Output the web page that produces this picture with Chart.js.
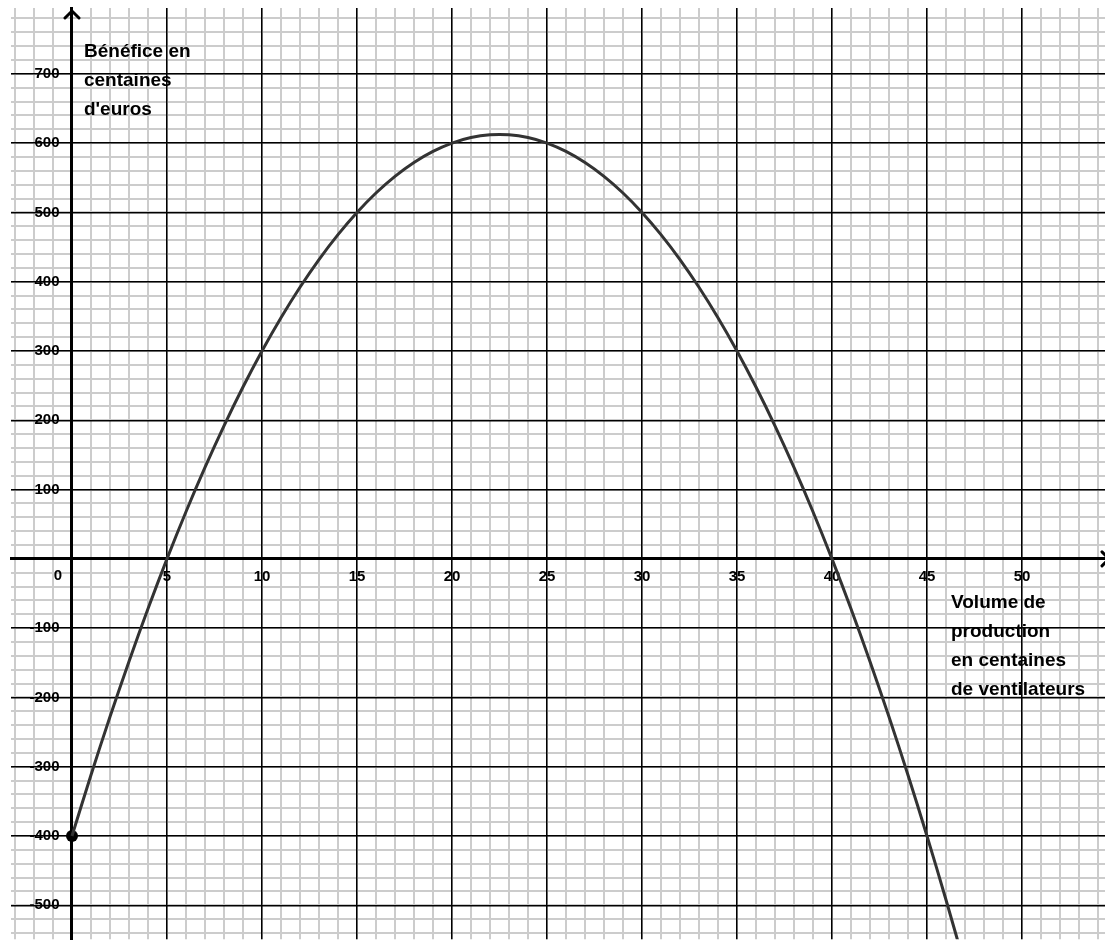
<!DOCTYPE html>
<html>
<head>
<meta charset="utf-8">
<script src="https://cdn.jsdelivr.net/npm/chart.js@4.4.0/dist/chart.umd.min.js"></script>
<style>
html, body { margin: 0; padding: 0; background: #fff; }
#wrap { width: 1105px; height: 940px; }
</style>
</head>
<body>
<div id="wrap"><canvas id="profitChart" width="1105" height="940"></canvas></div>
<script>
// Volume de production (centaines de ventilateurs), one reading per unit
var volumes = [0, 1, 2, 3, 4, 5, 6, 7, 8, 9, 10, 11, 12, 13, 14, 15, 16, 17, 18, 19, 20, 21, 22, 23,
    24, 25, 26, 27, 28, 29, 30, 31, 32, 33, 34, 35, 36, 37, 38, 39, 40, 41, 42, 43, 44, 45, 46, 47];
// Bénéfice (centaines d'euros)
var profits = [-400, -312, -228, -148, -72, 0, 68, 132, 192, 248, 300, 348, 392, 432, 468, 500, 528, 552, 572, 588, 600, 608, 612, 612,
    608, 600, 588, 572, 552, 528, 500, 468, 432, 392, 348, 300, 248, 192, 132, 68, 0, -72, -148, -228, -312, -400, -492, -588];
var startPoint = [{x: 0, y: -400}];

var xTickValues = [5, 10, 15, 20, 25, 30, 35, 40, 45, 50];
var yTickValues = [-500, -400, -300, -200, -100, 100, 200, 300, 400, 500, 600, 700];
var originLabel = '0';
var yTitleLines = ['Bénéfice en', 'centaines', "d'euros"];
var xTitleLines = ['Volume de', 'production', 'en centaines', 'de ventilateurs'];

var X_MIN = -3.21, X_MAX = 54.37;
var Y_MIN = -549, Y_MAX = 795;
var FONT = '"Liberation Sans", Arial, sans-serif';

// titles, origin label and axis arrows
var decorations = {
    id: 'decorations',
    afterDraw: function (chart) {
        var ctx = chart.ctx;
        var xs = chart.scales.x, ys = chart.scales.y;
        var ox = xs.getPixelForValue(0), oy = ys.getPixelForValue(0);
        ctx.save();
        ctx.fillStyle = '#000';
        ctx.font = 'bold 15px ' + FONT;
        ctx.textAlign = 'right';
        ctx.textBaseline = 'middle';
        ctx.fillText(originLabel, ox - 10, oy + 17);

        ctx.font = 'bold 19px ' + FONT;
        ctx.textAlign = 'left';
        ctx.textBaseline = 'alphabetic';
        yTitleLines.forEach(function (t, i) { ctx.fillText(t, ox + 12, 57 + i * 29); });
        xTitleLines.forEach(function (t, i) { ctx.fillText(t, 951, oy + 49 + i * 29); });

        ctx.strokeStyle = '#000';
        ctx.lineWidth = 3;
        ctx.lineCap = 'round';
        ctx.beginPath();
        ctx.moveTo(ox - 7, 18); ctx.lineTo(ox, 11); ctx.lineTo(ox + 7, 18);
        ctx.moveTo(1102, oy - 7); ctx.lineTo(1109, oy); ctx.lineTo(1102, oy + 7);
        ctx.stroke();
        ctx.restore();
    }
};

var ctx = document.getElementById('profitChart').getContext('2d');
var profitChart = new Chart(ctx, {
    type: 'line',
    data: {
        datasets: [{
            label: 'Bénéfice',
            data: volumes.map(function (v, i) { return {x: v, y: profits[i]}; }),
            borderColor: '#333333',
            borderWidth: 3,
            pointRadius: 0,
            tension: 0.4,
            fill: false
        }, {
            type: 'scatter',
            label: 'Départ',
            data: startPoint,
            pointRadius: 6,
            pointHoverRadius: 6,
            backgroundColor: '#000',
            borderWidth: 0
        }]
    },
    options: {
        responsive: false,
        animation: false,
        layout: { autoPadding: false, padding: { left: 11, top: 8, right: 0, bottom: 0 } },
        plugins: { legend: { display: false }, tooltip: { enabled: false } },
        scales: {
            xMinor: {
                type: 'linear', axis: 'x', position: { y: 0 },
                min: X_MIN, max: X_MAX,
                ticks: { display: false, stepSize: 1, includeBounds: false, autoSkip: false },
                grid: { color: '#cccccc', lineWidth: 2, drawTicks: false, z: -2 },
                border: { display: false }
            },
            yMinor: {
                type: 'linear', axis: 'y', position: { x: 0 },
                min: Y_MIN, max: Y_MAX,
                ticks: { display: false, stepSize: 20, includeBounds: false, autoSkip: false },
                grid: { color: '#cccccc', lineWidth: 2, drawTicks: false, z: -2 },
                border: { display: false }
            },
            x: {
                type: 'linear', position: { y: 0 },
                min: X_MIN, max: X_MAX,
                ticks: {
                    stepSize: 5, includeBounds: false, autoSkip: false, maxRotation: 0,
                    padding: 9, color: '#000', z: -1.5,
                    font: { family: FONT, size: 15, weight: 'bold' },
                    callback: function (v) { return xTickValues.indexOf(v) >= 0 ? String(v) : ''; }
                },
                grid: { color: '#000', lineWidth: 1.5, drawTicks: false },
                border: { color: '#000', width: 3 }
            },
            y: {
                type: 'linear', position: { x: 0 },
                min: Y_MIN, max: Y_MAX,
                ticks: {
                    stepSize: 100, includeBounds: false, autoSkip: false,
                    padding: 0, color: '#000', z: -1.5,
                    font: { family: FONT, size: 15, weight: 'bold', lineHeight: 0.1 },
                    // trailing spaces keep the labels clear of the axis line
                    callback: function (v) { return yTickValues.indexOf(v) >= 0 ? String(v) + '   ' : ''; }
                },
                grid: { color: '#000', lineWidth: 1.5, drawTicks: false },
                border: { color: '#000', width: 3 }
            }
        }
    },
    plugins: [decorations]
});
</script>
</body>
</html>
